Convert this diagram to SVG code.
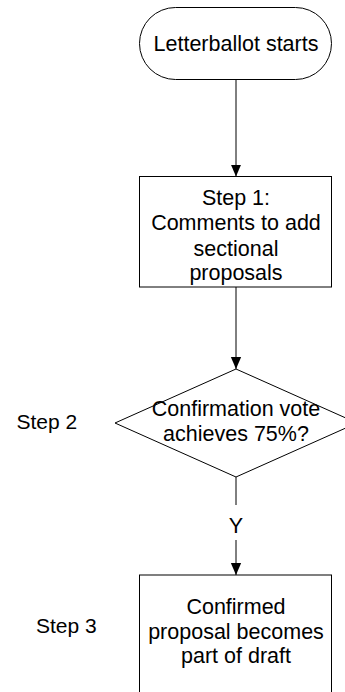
<svg xmlns="http://www.w3.org/2000/svg" width="345" height="692" viewBox="0 0 345 692">
<style>
.shape{fill:#fff;stroke:#000;stroke-width:1}
.t{font-family:"Liberation Sans",Arial,sans-serif;font-size:21.5px;fill:#000;text-anchor:middle}
.lbl{font-family:"Liberation Sans",Arial,sans-serif;font-size:21px;fill:#000}
.c{stroke:#000;stroke-width:1;fill:none}
</style>
<defs>
<marker id="ah" markerUnits="userSpaceOnUse" markerWidth="12" markerHeight="14" refX="14" refY="6" orient="auto" viewBox="0 0 14 12">
<path d="M0,0 L14,6 L0,12 Z" fill="#000"/>
</marker>
</defs>
<rect width="345" height="692" fill="#fff"/>
<g id="connectors">
<line class="c" x1="236" y1="79" x2="236" y2="176.5" marker-end="url(#ah)"/>
<line class="c" x1="236" y1="287" x2="236" y2="369" marker-end="url(#ah)"/>
<line class="c" x1="236" y1="477" x2="236" y2="505"/>
<line class="c" x1="236" y1="540" x2="236" y2="575" marker-end="url(#ah)"/>
<text class="t" x="236" y="533">Y</text>
</g>
<g id="start">
<rect class="shape" x="139.5" y="7.5" width="192" height="72" rx="36" ry="36"/>
<text class="t" x="236" y="50.5">Letterballot starts</text>
</g>
<g id="step1">
<rect class="shape" x="139.5" y="176.5" width="192" height="110.5"/>
<text class="t" x="236" y="204.5">Step 1:</text>
<text class="t" x="236" y="230">Comments to add</text>
<text class="t" x="236" y="255.5">sectional</text>
<text class="t" x="236" y="280">proposals</text>
</g>
<g id="step2label">
<text class="lbl" x="16.5" y="428.5">Step 2</text>
</g>
<g id="decision">
<polygon class="shape" points="236,369 357,423 236,477 115,423"/>
<text class="t" x="236" y="416">Confirmation vote</text>
<text class="t" x="236" y="440.5">achieves 75%?</text>
</g>
<g id="step3label">
<text class="lbl" x="36" y="633">Step 3</text>
</g>
<g id="step3">
<rect class="shape" x="139.5" y="575" width="192" height="130"/>
<text class="t" x="236" y="613.5">Confirmed</text>
<text class="t" x="236" y="638.5">proposal becomes</text>
<text class="t" x="236" y="662.5">part of draft</text>
</g>
</svg>
